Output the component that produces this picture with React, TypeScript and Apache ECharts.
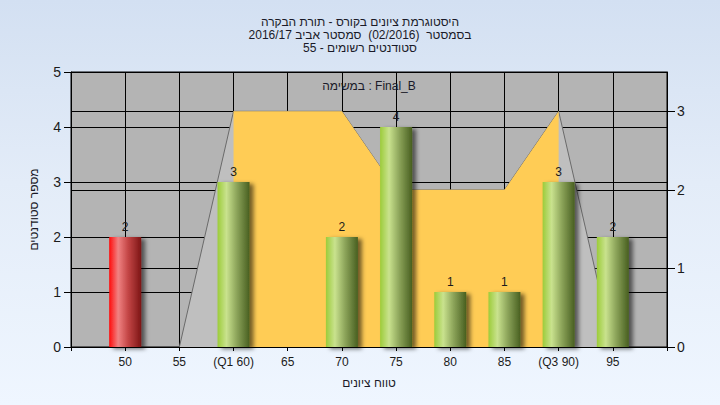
import React, { useEffect, useRef } from "react";
import * as echarts from "echarts";

const titleLines = [
  "היסטוגרמת ציונים בקורס - תורת הבקרה",
  "בסמסטר  (02/2016)  סמסטר אביב 2016/17",
  "סטודנטים רשומים - 55",
];
const taskLabel = "במשימה : Final_B";
const xAxisName = "טווח ציונים";
const yAxisName = "מספר סטודנטים";

const grades = [50, 55, 60, 65, 70, 75, 80, 85, 90, 95];
const tickLabels = ["50", "55", "(Q1 60)", "65", "70", "75", "80", "85", "(Q3 90)", "95"];
const counts = [2, 0, 3, 0, 2, 4, 1, 1, 3, 2];
const passGrade = 55;

const curveGrades = [55, 60, 65, 70, 75, 80, 85, 90, 95];
const curveValues = [0, 3, 3, 3, 2, 2, 2, 3, 0];
const iqrGrades = [60, 65, 70, 75, 80, 85, 90];
const iqrValues = [3, 3, 3, 2, 2, 2, 3];

const rightTicks = [0, 1, 2, 3];

const FONT = "Liberation Sans, Arial, sans-serif";

export default function App() {
  const ref = useRef<HTMLDivElement>(null);
  useEffect(() => {
    if (!ref.current) return;
    const chart = echarts.init(ref.current, null, { renderer: "svg" });

    const redGrad = new echarts.graphic.LinearGradient(0, 0, 1, 0, [
      { offset: 0, color: "#ff0a0a" },
      { offset: 0.28, color: "#f08282" },
      { offset: 0.6, color: "#c24444" },
      { offset: 1, color: "#7c1414" },
    ]);
    const greenGrad = () =>
      new echarts.graphic.LinearGradient(0, 0, 1, 0, [
        { offset: 0, color: "#9ccc3a" },
        { offset: 0.28, color: "#c9e28e" },
        { offset: 0.6, color: "#8ca45a" },
        { offset: 1, color: "#485f20" },
      ]);

    const barData = grades
      .map((g, i) => ({ g, v: counts[i] }))
      .filter((d) => d.v > 0)
      .map((d) => ({
        value: [d.g, d.v],
        itemStyle: { color: d.g < passGrade ? redGrad : greenGrad() },
      }));

    chart.setOption({
      animation: false,
      backgroundColor: "transparent",
      textStyle: { fontFamily: FONT },
      title: {
        text: titleLines.join("\n"),
        left: "center",
        top: 10,
        textStyle: {
          fontSize: 12,
          fontWeight: "normal",
          color: "#1a1a28",
          lineHeight: 13,
          fontFamily: FONT,
        },
      },
      graphic: [
        {
          type: "text",
          x: 369,
          y: 86,
          z: 100,
          style: {
            text: taskLabel,
            fill: "#1a1a28",
            font: `12px ${FONT}`,
            textAlign: "center",
            textVerticalAlign: "middle",
          },
        },
      ],
      grid: {
        left: 71,
        top: 72,
        width: 596,
        height: 275,
        show: true,
        backgroundColor: "#b4b4b4",
        borderColor: "#000",
        borderWidth: 1,
      },
      xAxis: {
        type: "value",
        min: 45,
        max: 100,
        interval: 5,
        name: xAxisName,
        nameLocation: "middle",
        nameGap: 30,
        nameTextStyle: { fontSize: 12, color: "#1a1a28", fontFamily: FONT },
        axisLine: { show: true, lineStyle: { color: "#000", width: 1 } },
        axisTick: { show: true, length: 4, lineStyle: { color: "#000" } },
        axisLabel: {
          fontSize: 12,
          color: "#1b1b1b",
          margin: 9,
          fontFamily: FONT,
          formatter: (v: number) => {
            const i = grades.indexOf(Math.round(v));
            return i >= 0 ? tickLabels[i] : "";
          },
        },
        splitLine: { show: true, lineStyle: { color: "#000", width: 1 } },
      },
      yAxis: [
        {
          type: "value",
          min: 0,
          max: 5,
          interval: 1,
          position: "left",
          name: yAxisName,
          nameLocation: "middle",
          nameGap: 31,
          nameRotate: 90,
          nameTextStyle: { fontSize: 12, color: "#1a1a28", fontFamily: FONT },
          axisLine: { show: true, lineStyle: { color: "#000", width: 1 } },
          axisTick: { show: true, length: 7, lineStyle: { color: "#000" } },
          axisLabel: { fontSize: 14, color: "#1b1b1b", margin: 10, fontFamily: FONT },
          splitLine: { show: true, lineStyle: { color: "#000", width: 1 } },
        },
        {
          type: "value",
          min: 0,
          max: 3.5,
          interval: 1,
          position: "right",
          axisLine: { show: true, lineStyle: { color: "#000", width: 1 } },
          axisTick: {
            show: true,
            length: 8,
            customValues: rightTicks,
            lineStyle: { color: "#000" },
          },
          axisLabel: {
            fontSize: 14,
            color: "#1b1b1b",
            margin: 10,
            fontFamily: FONT,
            customValues: rightTicks,
          },
          splitLine: { show: true, lineStyle: { color: "#000", width: 1 } },
        },
      ],
      series: [
        {
          type: "line",
          yAxisIndex: 1,
          data: curveGrades.map((g, i) => [g, curveValues[i]]),
          symbol: "none",
          lineStyle: { color: "#6a6a6a", width: 1 },
          areaStyle: { color: "#bfbfbf", opacity: 1 },
          z: 2,
        },
        {
          type: "line",
          yAxisIndex: 1,
          data: iqrGrades.map((g, i) => [g, iqrValues[i]]),
          symbol: "none",
          lineStyle: { width: 0, color: "#ffcc55" },
          areaStyle: { color: "#ffcc55", opacity: 1 },
          z: 3,
        },
        {
          type: "bar",
          yAxisIndex: 0,
          barWidth: 32,
          data: barData,
          z: 5,
          itemStyle: {
            shadowColor: "rgba(0,0,0,0.55)",
            shadowBlur: 4,
            shadowOffsetX: 4,
            shadowOffsetY: 2,
          },
          label: {
            show: true,
            position: "top",
            distance: 4,
            fontSize: 12,
            color: "#1b1b1b",
            fontFamily: FONT,
            formatter: (p: any) => String(p.value[1]),
          },
        },
      ],
    });
    return () => chart.dispose();
  }, []);

  return (
    <div
      style={{
        position: "fixed",
        left: 0,
        top: 0,
        width: 720,
        height: 405,
        background: "linear-gradient(to bottom, #d3e0f2 0%, #e3ecf8 45%, #eff6ff 100%)",
      }}
    >
      <div ref={ref} style={{ width: 720, height: 405 }} />
    </div>
  );
}
